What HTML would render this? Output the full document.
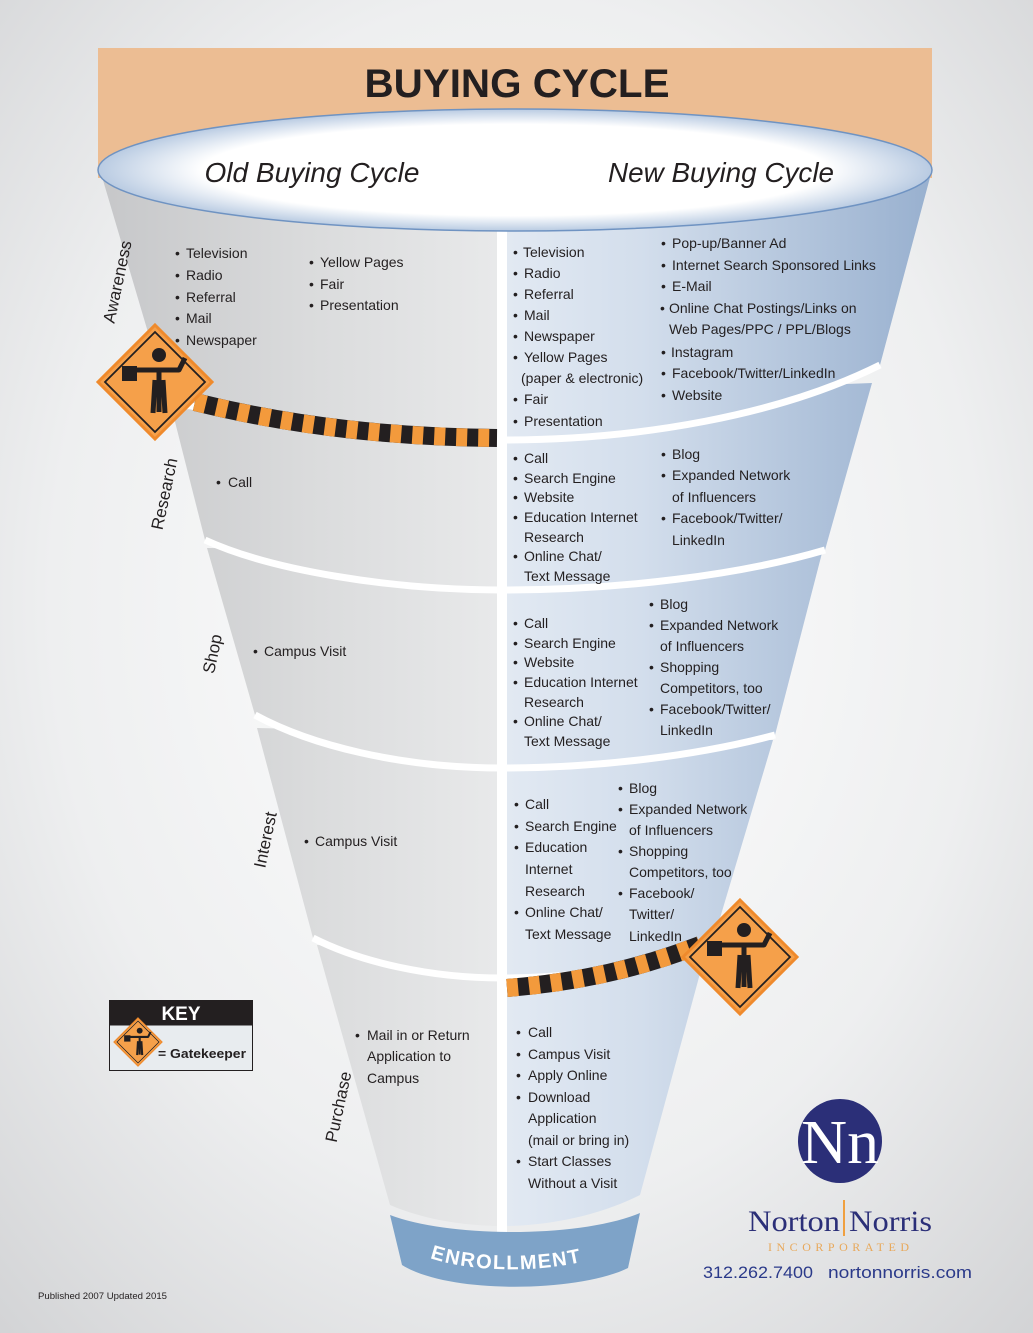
<!DOCTYPE html>
<html><head><meta charset="utf-8"><style>
html,body{margin:0;padding:0;}
body{width:1033px;height:1333px;overflow:hidden;}
svg{display:block;}
</style></head><body>
<svg width="1033" height="1333" viewBox="0 0 1033 1333" xmlns="http://www.w3.org/2000/svg">
<defs>
<radialGradient id="bg" cx="0.5" cy="0.45" r="0.75">
<stop offset="0" stop-color="#ffffff"/><stop offset="0.6" stop-color="#eeeff0"/><stop offset="1" stop-color="#d2d3d5"/>
</radialGradient>
<linearGradient id="band" gradientUnits="userSpaceOnUse" x1="100" y1="0" x2="932" y2="0">
<stop offset="0" stop-color="#c6c7c9"/><stop offset="0.25" stop-color="#dadbdc"/><stop offset="0.477" stop-color="#e8e9ea"/>
<stop offset="0.478" stop-color="#e3eaf3"/><stop offset="0.65" stop-color="#d3deec"/><stop offset="1" stop-color="#98b0cf"/>
</linearGradient>
<radialGradient id="ell" cx="0.5" cy="0.5" r="0.5">
<stop offset="0.75" stop-color="#ffffff"/><stop offset="1" stop-color="#b9cbe2"/>
</radialGradient>
<g id="sign">
<path d="M0,-57 L57,0 L0,57 L-57,0 Z" fill="#f5a04a" stroke="#ef8a2c" stroke-width="3"/>
<path d="M0,-50 L50,0 L0,50 L-50,0 Z" fill="none" stroke="#231f20" stroke-width="1.8"/>
<circle cx="4" cy="-27" r="7" fill="#231f20"/>
<rect x="-33" y="-16" width="15" height="15" fill="#231f20"/>
<path d="M-20,-12 L24,-12 L30,-24" stroke="#231f20" stroke-width="5" fill="none" stroke-linejoin="round"/>
<path d="M4,-14 L4,30 M0,-2 L-2,31 M8,-2 L10,31" stroke="#231f20" stroke-width="5" fill="none"/>
</g>
</defs>
<rect width="1033" height="1333" fill="url(#bg)"/>
<rect x="98" y="48" width="834" height="130" fill="#ecbd93"/>
<text x="517" y="97" font-family="Liberation Sans, sans-serif" font-weight="bold" font-size="40" fill="#231f20" text-anchor="middle" textLength="305" lengthAdjust="spacingAndGlyphs">BUYING CYCLE</text>

<!-- bands bottom to top -->
<g fill="url(#band)">
<path d="M317,945 L705,955 L640,1195 C600,1215 550,1226 502,1226 C460,1226 420,1218 390,1205 Z"/>
<path d="M257,728 L773,740 L712,945 C650,965 580,978 502,978 C430,978 360,962 313,938 Z"/>
<path d="M207,548 L822,553 L775,735 C700,755 600,768 502,768 C400,768 310,745 255,715 Z"/>
<path d="M172,410 L872,383 L825,550 C740,575 620,590 502,590 C390,590 270,570 205,540 Z"/>
<path d="M100,170 L932,170 L880,365 C780,415 640,440 502,440 C380,440 260,425 168,400 Z"/>
</g>
<g fill="none" stroke="#ffffff" stroke-width="7">
<path d="M712,945 C650,965 580,978 502,978 C430,978 360,962 313,938"/>
<path d="M775,735 C700,755 600,768 502,768 C400,768 310,745 255,715"/>
<path d="M825,550 C740,575 620,590 502,590 C390,590 270,570 205,540"/>
<path d="M880,365 C780,415 640,440 502,440 C380,440 260,425 168,400"/>
</g>
<rect x="497" y="225" width="10" height="1010" fill="#ffffff"/>

<!-- top ellipse -->
<ellipse cx="515" cy="170" rx="417" ry="61" fill="url(#ell)" stroke="#6f93c2" stroke-width="1.5"/>
<text x="312" y="182" font-family="Liberation Sans, sans-serif" font-style="italic" font-size="28" fill="#231f20" text-anchor="middle" textLength="215" lengthAdjust="spacingAndGlyphs">Old Buying Cycle</text>
<text x="721" y="182" font-family="Liberation Sans, sans-serif" font-style="italic" font-size="28" fill="#231f20" text-anchor="middle" textLength="226" lengthAdjust="spacingAndGlyphs">New Buying Cycle</text>

<!-- enrollment -->
<path d="M390,1215 C450,1238 580,1238 640,1213 L628,1268 C580,1292 450,1295 402,1265 Z" fill="#7ea3c8"/>
<path id="ep" d="M430,1258 C480,1275 560,1272 605,1255" fill="none"/>
<text font-family="Liberation Sans, sans-serif" font-weight="bold" font-size="20" fill="#ffffff" letter-spacing="1.5"><textPath href="#ep">ENROLLMENT</textPath></text>

<!-- hazard bars -->
<path d="M195,402 C300,428 400,437 497,438" stroke="#231f20" stroke-width="18" fill="none"/>
<path d="M195,402 C300,428 400,437 497,438" stroke="#f39a3c" stroke-width="18" fill="none" stroke-dasharray="11 11"/>
<path d="M507,988 C580,982 640,968 700,945" stroke="#231f20" stroke-width="18" fill="none"/>
<path d="M507,988 C580,982 640,968 700,945" stroke="#f39a3c" stroke-width="18" fill="none" stroke-dasharray="11 11"/>
<use href="#sign" x="155" y="382"/>
<use href="#sign" x="740" y="957"/>

<!-- stage labels -->
<g font-family="Liberation Sans, sans-serif" font-size="17" fill="#231f20" text-anchor="middle">
<text transform="translate(123,283) rotate(-78)">Awareness</text>
<text transform="translate(170,495) rotate(-78)">Research</text>
<text transform="translate(218,655) rotate(-78)">Shop</text>
<text transform="translate(271,841) rotate(-78)">Interest</text>
<text transform="translate(344,1108) rotate(-78)">Purchase</text>
</g>

<g font-family="Liberation Sans, sans-serif" font-size="14" fill="#231f20">
<text x="175" y="258">•<tspan x="186">Television</tspan></text>
<text x="175" y="280">•<tspan x="186">Radio</tspan></text>
<text x="175" y="302">•<tspan x="186">Referral</tspan></text>
<text x="175" y="323">•<tspan x="186">Mail</tspan></text>
<text x="175" y="345">•<tspan x="186">Newspaper</tspan></text>
<text x="309" y="267">•<tspan x="320">Yellow Pages</tspan></text>
<text x="309" y="289">•<tspan x="320">Fair</tspan></text>
<text x="309" y="310">•<tspan x="320">Presentation</tspan></text>
<text x="513" y="257">•<tspan x="523">Television</tspan></text>
<text x="513" y="278">•<tspan x="524">Radio</tspan></text>
<text x="513" y="299">•<tspan x="524">Referral</tspan></text>
<text x="513" y="320">•<tspan x="524">Mail</tspan></text>
<text x="513" y="341">•<tspan x="524">Newspaper</tspan></text>
<text x="513" y="362">•<tspan x="524">Yellow Pages</tspan></text>
<text x="521" y="383">(paper &amp; electronic)</text>
<text x="513" y="404">•<tspan x="524">Fair</tspan></text>
<text x="513" y="426">•<tspan x="524">Presentation</tspan></text>
<text x="661" y="248">•<tspan x="672">Pop-up/Banner Ad</tspan></text>
<text x="661" y="270">•<tspan x="672">Internet Search Sponsored Links</tspan></text>
<text x="661" y="291">•<tspan x="672">E-Mail</tspan></text>
<text x="660" y="313">•<tspan x="669">Online Chat Postings/Links on</tspan></text>
<text x="669" y="334">Web Pages/PPC / PPL/Blogs</text>
<text x="661" y="357">•<tspan x="671">Instagram</tspan></text>
<text x="661" y="378">•<tspan x="672">Facebook/Twitter/LinkedIn</tspan></text>
<text x="661" y="400">•<tspan x="672">Website</tspan></text>
<text x="216" y="487">•<tspan x="228">Call</tspan></text>
<text x="513" y="463">•<tspan x="524">Call</tspan></text>
<text x="513" y="483">•<tspan x="524">Search Engine</tspan></text>
<text x="513" y="502">•<tspan x="524">Website</tspan></text>
<text x="513" y="522">•<tspan x="524">Education Internet</tspan></text>
<text x="524" y="542">Research</text>
<text x="513" y="561">•<tspan x="524">Online Chat/</tspan></text>
<text x="524" y="581">Text Message</text>
<text x="661" y="459">•<tspan x="672">Blog</tspan></text>
<text x="661" y="480">•<tspan x="672">Expanded Network</tspan></text>
<text x="672" y="502">of Influencers</text>
<text x="661" y="523">•<tspan x="672">Facebook/Twitter/</tspan></text>
<text x="672" y="545">LinkedIn</text>
<text x="253" y="656">•<tspan x="264">Campus Visit</tspan></text>
<text x="513" y="628">•<tspan x="524">Call</tspan></text>
<text x="513" y="648">•<tspan x="524">Search Engine</tspan></text>
<text x="513" y="667">•<tspan x="524">Website</tspan></text>
<text x="513" y="687">•<tspan x="524">Education Internet</tspan></text>
<text x="524" y="707">Research</text>
<text x="513" y="726">•<tspan x="524">Online Chat/</tspan></text>
<text x="524" y="746">Text Message</text>
<text x="649" y="609">•<tspan x="660">Blog</tspan></text>
<text x="649" y="630">•<tspan x="660">Expanded Network</tspan></text>
<text x="660" y="651">of Influencers</text>
<text x="649" y="672">•<tspan x="660">Shopping</tspan></text>
<text x="660" y="693">Competitors, too</text>
<text x="649" y="714">•<tspan x="660">Facebook/Twitter/</tspan></text>
<text x="660" y="735">LinkedIn</text>
<text x="304" y="846">•<tspan x="315">Campus Visit</tspan></text>
<text x="514" y="809">•<tspan x="525">Call</tspan></text>
<text x="514" y="831">•<tspan x="525">Search Engine</tspan></text>
<text x="514" y="852">•<tspan x="525">Education</tspan></text>
<text x="525" y="874">Internet</text>
<text x="525" y="896">Research</text>
<text x="514" y="917">•<tspan x="525">Online Chat/</tspan></text>
<text x="525" y="939">Text Message</text>
<text x="618" y="793">•<tspan x="629">Blog</tspan></text>
<text x="618" y="814">•<tspan x="629">Expanded Network</tspan></text>
<text x="629" y="835">of Influencers</text>
<text x="618" y="856">•<tspan x="629">Shopping</tspan></text>
<text x="629" y="877">Competitors, too</text>
<text x="618" y="898">•<tspan x="629">Facebook/</tspan></text>
<text x="629" y="919">Twitter/</text>
<text x="629" y="941">LinkedIn</text>
<text x="355" y="1040">•<tspan x="367">Mail in or Return</tspan></text>
<text x="367" y="1061">Application to</text>
<text x="367" y="1083">Campus</text>
<text x="516" y="1037">•<tspan x="528">Call</tspan></text>
<text x="516" y="1059">•<tspan x="528">Campus Visit</tspan></text>
<text x="516" y="1080">•<tspan x="528">Apply Online</tspan></text>
<text x="516" y="1102">•<tspan x="528">Download</tspan></text>
<text x="528" y="1123">Application</text>
<text x="528" y="1145">(mail or bring in)</text>
<text x="516" y="1166">•<tspan x="528">Start Classes</tspan></text>
<text x="528" y="1188">Without a Visit</text>
</g>

<!-- key -->
<rect x="109.5" y="1000.5" width="143" height="70" fill="#e8ecef" stroke="#231f20" stroke-width="1"/>
<rect x="109.5" y="1000.5" width="143" height="25" fill="#231f20"/>
<text x="181" y="1020" font-family="Liberation Sans, sans-serif" font-weight="bold" font-size="19" fill="#ffffff" text-anchor="middle">KEY</text>
<use href="#sign" transform="translate(138,1042) scale(0.42)"/>
<text x="158" y="1058" font-family="Liberation Sans, sans-serif" font-weight="bold" font-size="13" fill="#231f20" textLength="88" lengthAdjust="spacingAndGlyphs">= Gatekeeper</text>

<!-- logo -->
<circle cx="840" cy="1141" r="42" fill="#2b2f78"/>
<text x="840" y="1163" font-family="Liberation Serif, serif" font-size="62" fill="#ffffff" text-anchor="middle" textLength="78" lengthAdjust="spacingAndGlyphs">Nn</text>
<text x="748" y="1231" font-family="Liberation Serif, serif" font-size="30" fill="#2b2f78" textLength="92" lengthAdjust="spacingAndGlyphs">Norton</text>
<rect x="843" y="1200" width="2" height="36" fill="#f0a040"/>
<text x="849" y="1231" font-family="Liberation Serif, serif" font-size="30" fill="#2b2f78" textLength="83" lengthAdjust="spacingAndGlyphs">Norris</text>
<text x="768" y="1251" font-family="Liberation Serif, serif" font-size="12" fill="#e8a85a" letter-spacing="3" textLength="144">INCORPORATED</text>
<text x="703" y="1278" font-family="Liberation Sans, sans-serif" font-size="17" fill="#2b3a8a" textLength="110" lengthAdjust="spacingAndGlyphs">312.262.7400</text>
<text x="828" y="1278" font-family="Liberation Sans, sans-serif" font-size="17" fill="#2b3a8a" textLength="144" lengthAdjust="spacingAndGlyphs">nortonnorris.com</text>
<text x="38" y="1299" font-family="Liberation Sans, sans-serif" font-size="9" fill="#231f20" textLength="129" lengthAdjust="spacingAndGlyphs">Published 2007  Updated 2015</text>
</svg>
</body></html>
